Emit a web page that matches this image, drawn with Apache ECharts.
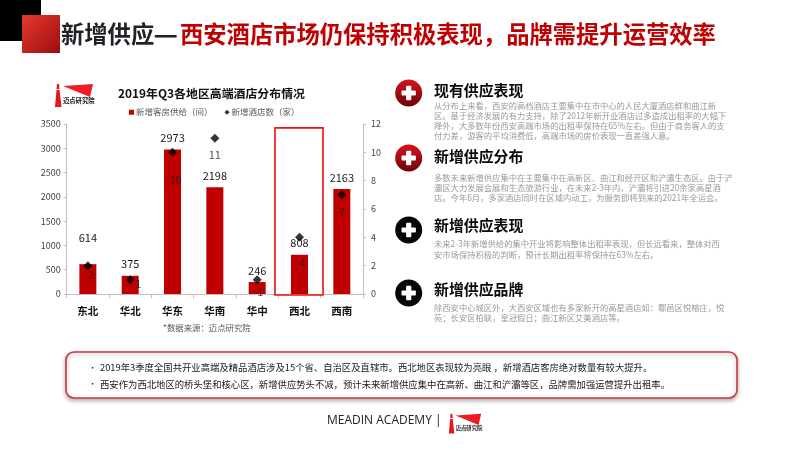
<!DOCTYPE html>
<html><head><meta charset="utf-8">
<style>html,body{margin:0;padding:0;background:#fff}#c{width:800px;height:450px}</style>
<script src="https://cdn.jsdelivr.net/npm/echarts@6/dist/echarts.min.js"></script>
</head><body><div id="c"></div>
<script>
const FONT='"Noto Sans CJK SC","Noto Sans",sans-serif';
const regions=['东北','华北','华东','华南','华中','西北','西南'];
const rooms=[614,375,2973,2198,246,808,2163];
const hotels=[2,1,10,11,1,4,7];
const seriesNames=['新增客房供给（间）','新增酒店数（家）'];
const titleBlack='新增供应';
const titleDash='—';
const titleRed='西安酒店市场仍保持积极表现，品牌需提升运营效率';
const chartTitle='2019年Q3各地区高端酒店分布情况';
const sourceNote='*数据来源：迈点研究院';
const sections=[
 {h:'现有供应表现',lines:['从分布上来看，西安的高档酒店主要集中在市中心的人民大厦酒店群和曲江新','区。基于经济发展的有力支持，除了2012年新开业酒店过多造成出租率的大幅下','降外，大多数年份西安高端市场的出租率保持在65%左右。但由于商务客人的支','付力差，游客的平均消费低，高端市场的房价表现一直差强人意。']},
 {h:'新增供应分布',lines:['多数未来新增供应集中在主要集中在高新区、曲江和经开区和浐灞生态区。由于浐','灞区大力发展会展和生态旅游行业，在未来2-3年内，浐灞将引进20余家高星酒','店。今年6月，多家酒店同时在区域内动工，为服务即将到来的2021年全运会。']},
 {h:'新增供应表现',lines:['未来2-3年新增供给的集中开业将影响整体出租率表现，但长远看来，整体对西','安市场保持积极的判断，预计长期出租率将保持在63%左右。']},
 {h:'新增供应品牌',lines:['除西安中心城区外，大西安区域也有多家新开的高星酒店如：鄠邑区悦榕庄，悦','苑；长安区柏联，皇冠假日；曲江新区艾美酒店等。']}
];
const bullets=['2019年3季度全国共开业高端及精品酒店涉及15个省、自治区及直辖市。西北地区表现较为亮眼 ，新增酒店客房绝对数量有较大提升。','西安作为西北地区的桥头堡和核心区，新增供应势头不减，预计未来新增供应集中在高新、曲江和浐灞等区，品牌需加强运营提升出租率。'];
const footer='MEADIN ACADEMY |';
const logoText='迈点研究院';

const barOffsets=[[0,-15],[0,0],[0,0],[0,0],[0,0],[0,0],[0,0]];
const dotOffsets=[[3,9],[8,4],[3,27],[0,17],[3,12],[3,25],[0,17]];

const chart=echarts.init(document.getElementById('c'));
const axisGrey='#bfbfbf';
const g=[];
const T=(text,x,y,size,fill,extra)=>g.push({type:'text',silent:true,x,y,style:Object.assign({text,fontSize:size,fontFamily:FONT,fill,verticalAlign:'middle'},extra||{})});
const grad=(a,b,x2,y2)=>new echarts.graphic.LinearGradient(0,0,x2,y2,[{offset:0,color:a},{offset:1,color:b}]);

g.push({type:'rect',shape:{x:0,y:0,width:41,height:41},style:{fill:'#000'}});
g.push({type:'rect',shape:{x:22,y:15,width:38,height:38},style:{fill:grad('#e8392c','#9c0d12',1,1)}});
T(titleBlack,61,34,23.3,'#1f2328',{fontWeight:'bold'});
T(titleDash,153.5,34,27,'#1f2328',{fontWeight:'bold'});
T(titleRed,180,34,23.3,'#c00000',{fontWeight:'bold'});

function logo(x,y,s){
 g.push({type:'polygon',shape:{points:[[x+9*s,y+3*s],[x+39*s,y+1*s],[x+36*s,y+14*s]]},style:{fill:'#ef1c24'}});
 g.push({type:'polygon',shape:{points:[[x+2.5*s,y+7*s],[x+5.5*s,y+7*s],[x+7.5*s,y+24*s],[x+1*s,y+24*s]]},style:{fill:'#e8141c'}});
 g.push({type:'polygon',shape:{points:[[x+3*s,y+1*s],[x+5*s,y+1*s],[x+5.5*s,y+6*s],[x+2.5*s,y+6*s]]},style:{fill:'#e8141c'}});
 T(logoText,x+9*s,y+17.5*s,6.3*s,'#222',{fontWeight:'bold'});
}
logo(54,83,1);
T(chartTitle,118,93,11.9,'#111',{fontWeight:'bold'});
T(sourceNote,163,328,8.4,'#555');

const iconY=[93,158,230,293], headY=[90.5,156.5,225.5,289.5], bodyY=[105.5,177.7,244,308];
const lineGap=[10,10.2,10.5,10];
sections.forEach((s,i)=>{
 const red=i<2;
 g.push({type:'circle',shape:{cx:408.7,cy:iconY[i],r:13.5},style:{fill:red?grad('#d8141c','#6a0508',0,1):'#060606'}});
 g.push({type:'rect',shape:{x:401.5,y:iconY[i]-2.6,width:14.4,height:5.2,r:1},style:{fill:'#fff'}});
 g.push({type:'rect',shape:{x:406.1,y:iconY[i]-7.2,width:5.2,height:14.4,r:1},style:{fill:'#fff'}});
 T(s.h,434,headY[i],14.9,'#0a0a0a',{fontWeight:'bold'});
 s.lines.forEach((l,j)=>T(l,434,bodyY[i]+j*lineGap[i],8.3,'#999999'));
});

g.push({type:'rect',shape:{x:66,y:352,width:671,height:46,r:8},style:{fill:'#fff',stroke:'#c8383c',lineWidth:1.6,shadowBlur:4,shadowOffsetY:2,shadowColor:'rgba(0,0,0,0.3)'}});
[367.5,384].forEach((y,i)=>{
 T('•',88.5,y,8,'#111');
 T(bullets[i],100,y,9.35,'#1a1a1a');
});
T(footer,327,420.5,12,'#222',{fontFamily:'"Open Sans",sans-serif'});
logo(448,413,0.85);

chart.setOption({
 animation:false,
 textStyle:{fontFamily:FONT},
 grid:{left:66.7,right:437,top:124,bottom:156},
 legend:{top:103,left:124,itemWidth:5,itemHeight:5,itemGap:12,textStyle:{fontSize:8.5,color:'#595959',padding:[0,0,0,-3]},
  data:[{name:seriesNames[0],icon:'rect'},{name:seriesNames[1],icon:'diamond',itemStyle:{color:'#000'}}]},
 xAxis:{type:'category',data:regions,axisLine:{lineStyle:{color:axisGrey}},axisTick:{show:true,length:4,lineStyle:{color:axisGrey},alignWithLabel:false},
  axisLabel:{fontSize:10.5,fontWeight:'bold',color:'#111',margin:12}},
 yAxis:[
  {type:'value',min:0,max:3500,interval:500,splitLine:{show:false},axisLine:{show:true,lineStyle:{color:axisGrey}},axisTick:{show:true,length:3,lineStyle:{color:axisGrey}},axisLabel:{fontSize:9,color:'#444',margin:6,formatter:v=>String(v)}},
  {type:'value',min:0,max:12,interval:2,splitLine:{show:false},axisLine:{show:true,lineStyle:{color:axisGrey}},axisTick:{show:true,length:3,lineStyle:{color:axisGrey}},axisLabel:{fontSize:9,color:'#444',margin:8}}
 ],
 series:[
  {name:seriesNames[0],type:'bar',data:rooms.map((v,i)=>({value:v,label:{offset:barOffsets[i]}})),barWidth:17,itemStyle:{color:'#c00000'},
   label:{show:true,position:'top',distance:6,fontSize:11,color:'#1a1a1a'}},
  {name:seriesNames[1],type:'scatter',yAxisIndex:1,symbol:'diamond',symbolSize:9,itemStyle:{color:'#000'},z:5,
   data:hotels.map((v,i)=>({value:v,label:{offset:dotOffsets[i]}})),
   label:{show:true,position:'inside',fontSize:11,color:'#1a1a1a'}}
 ],
 graphic:g
});

const boxX=chart.convertToPixel({xAxisIndex:0},regions[5]);
const boxTop=chart.convertToPixel({yAxisIndex:0},3420);
const boxBot=chart.convertToPixel({yAxisIndex:0},-20);
g.push({type:'rect',z:10,shape:{x:boxX-24.5,y:boxTop,width:48,height:boxBot-boxTop},style:{fill:'none',stroke:'#f01010',lineWidth:1.6}});
chart.setOption({graphic:g});
</script></body></html>
